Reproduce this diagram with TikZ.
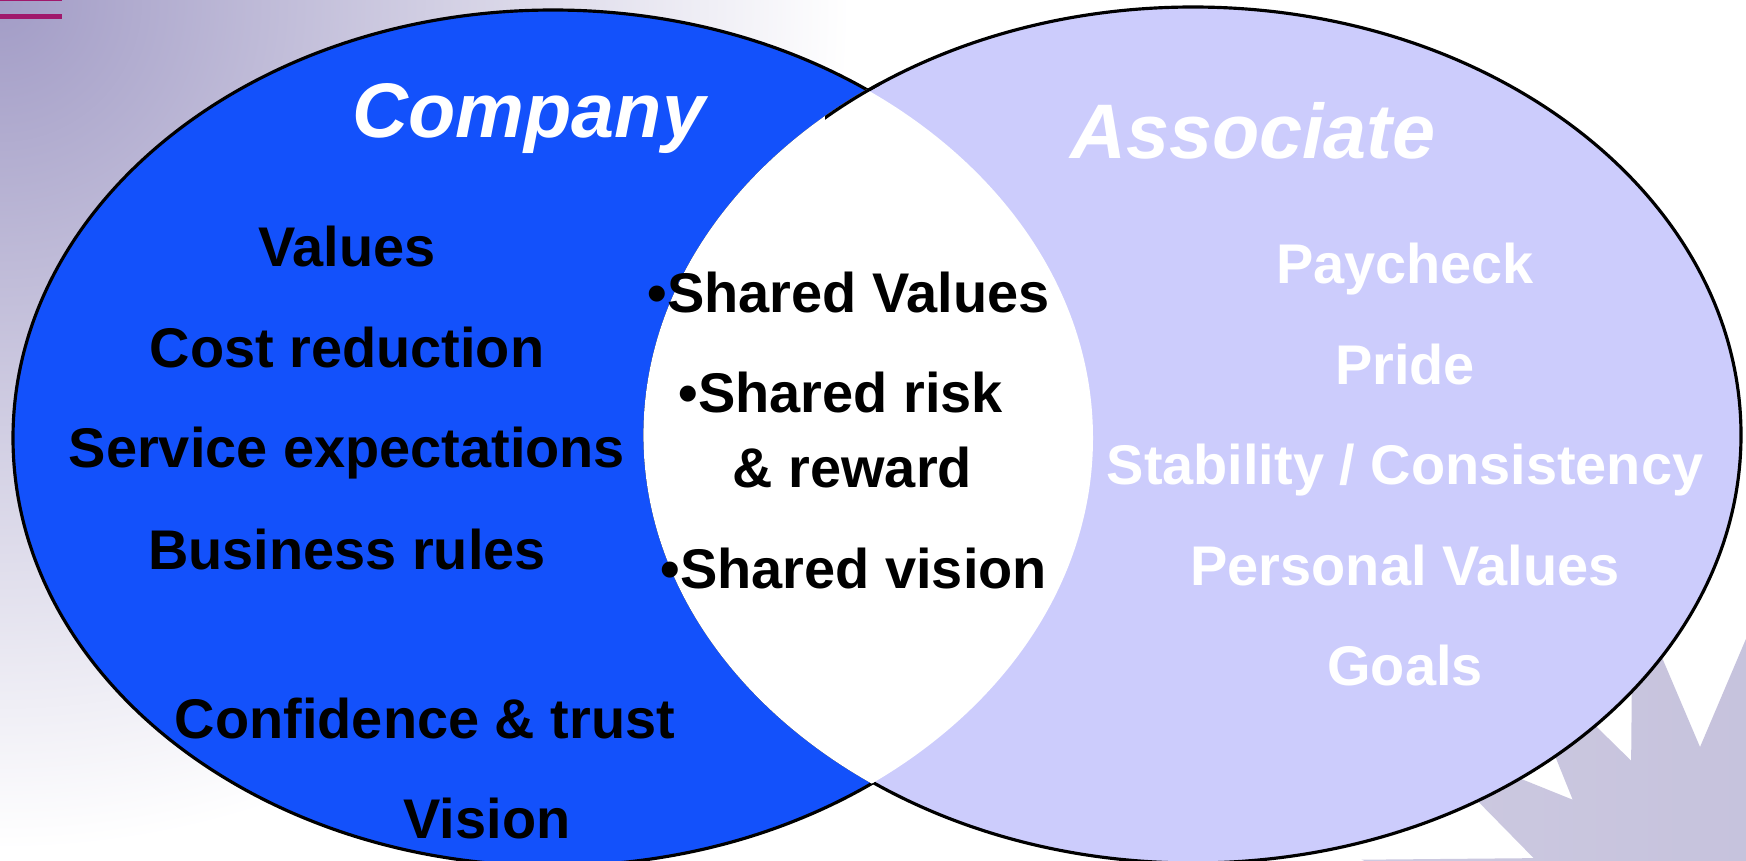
\documentclass[tikz,border=0pt]{standalone}
\usepackage{fontspec}
\setmainfont{Liberation Sans}
\definecolor{companyblue}{HTML}{1351FB}
\definecolor{associatelilac}{HTML}{CCCCFC}
\definecolor{haze}{HTML}{A29CC6}
\definecolor{burstlight}{HTML}{CDCAE1}
\definecolor{burstdark}{HTML}{C1BDD9}
\definecolor{rulecolor}{HTML}{A0186C}
\tikzset{
  item/.style={font=\fontsize{15.9}{19}\selectfont\bfseries, inner sep=0pt, anchor=base},
  dark/.style={item, text=black},
  light/.style={item, text=white},
  heading/.style={font=\fontsize{22}{26}\selectfont\bfseries\itshape, text=white, inner sep=0pt, anchor=base},
  outline/.style={draw=black, line width=0.9pt},
  cornerrule/.style={draw=rulecolor, line width=0.05cm},
}
\begin{document}
\begin{tikzpicture}[x=0.01cm, y=-0.01cm]
\useasboundingbox (0,0) rectangle (1746,860);
\begin{scope}
  \clip (0,0) rectangle (1746,860);
  % background haze from the top-left corner
  \fill[white] (0,0) rectangle (1746,860);
  \shade[inner color=haze, outer color=white] (0,0) circle (850);
  % sunburst in the lower right corner (16 rays)
  \shade[left color=burstlight, right color=burstdark]
    plot[domain=0:32, samples=33, variable=\k]
      ({1700+ifthenelse(mod(round(\k),2)<0.5,180,345)*cos(90+11.25*\k)},
       {927-ifthenelse(mod(round(\k),2)<0.5,180,345)*sin(90+11.25*\k)}) -- cycle;
  % two short rules in the corner
  \draw[cornerrule] (0,-2) coordinate (r1a) -- (62,-2) coordinate (r1b);
  \draw[cornerrule] (0,16) coordinate (r2a) -- (62,16) coordinate (r2b);
  % the two sets
  \path[fill=companyblue, outline] (553,438) ellipse [x radius=540, y radius=428];
  \path[fill=associatelilac, outline] (1193,435) ellipse [x radius=548, y radius=428];
  % common ground
  \begin{scope}
    \clip (553,438) ellipse [x radius=540, y radius=428];
    \path[fill=white, draw=white, line width=0.9pt] (1193,435) ellipse [x radius=548, y radius=428];
  \end{scope}
  % the outline of the right set stays visible just below the upper crossing
  \begin{scope}
    \clip (825,70) rectangle (880,125);
    \path[outline] (1193,435) ellipse [x radius=548, y radius=428];
  \end{scope}
\end{scope}

\node[heading] (company) at (529,137) {Company};
\node[heading] (associate) at (1253,158) {Associate};

\node[dark] (values) at (347,266) {Values};
\node[dark] (cost) at (347,367) {Cost reduction};
\node[dark] (service) at (347,467) {Service expectations};
\node[dark] (rules) at (347,569) {Business rules};
\node[dark] (trust) at (425,738) {Confidence \& trust};
\node[dark] (vision) at (487,838) {Vision};

\node[dark, anchor=base west] (sharedvalues) at (647,312) {•Shared Values};
\node[dark, anchor=base west] (sharedrisk) at (678,412) {•Shared risk};
\node[dark, anchor=base west] (reward) at (732,487) {\& reward};
\node[dark, anchor=base west] (sharedvision) at (660,588) {•Shared vision};

\node[light] (paycheck) at (1405,283) {Paycheck};
\node[light] (pride) at (1405,384) {Pride};
\node[light] (stability) at (1405,484) {Stability / Consistency};
\node[light] (personal) at (1405,585) {Personal Values};
\node[light] (goals) at (1405,685) {Goals};
\end{tikzpicture}
\end{document}
